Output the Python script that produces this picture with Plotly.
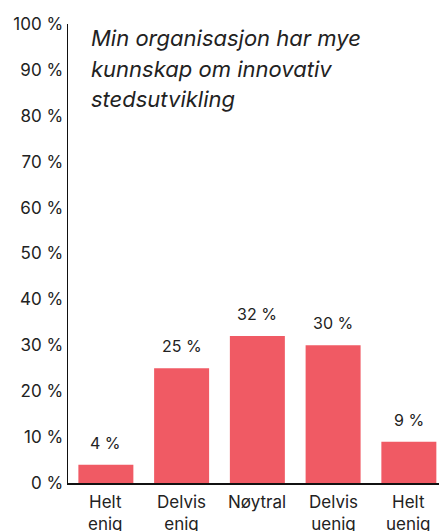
import plotly.graph_objects as go

categories = ["Helt<br>enig", "Delvis<br>enig", "Nøytral", "Delvis<br>uenig", "Helt<br>uenig"]
values = [4, 25, 32, 30, 9]
tick_vals = [0, 10, 20, 30, 40, 50, 60, 70, 80, 90, 100]
tick_text = [f"{v} %" for v in tick_vals]
title_lines = ["Min organisasjon har mye", "kunnskap om innovativ", "stedsutvikling"]

BAR = "#f05a64"
TXT = "#222222"
FONT = "Inter"

fig = go.Figure(go.Bar(
    x=list(range(len(categories))), y=values,
    marker_color=BAR, marker_line_width=0, hoverinfo="skip",
))

# value labels above bars
for i, v in enumerate(values):
    fig.add_annotation(x=i, y=v, text=f"{v} %", showarrow=False,
                       yanchor="bottom", yshift=10,
                       font=dict(family=FONT, size=16, color=TXT))

# category labels
for i, c in enumerate(categories):
    fig.add_annotation(x=i, y=0, yref="paper", text=c, showarrow=False,
                       yanchor="top", yshift=-7, align="center",
                       font=dict(family=FONT, size=17, color=TXT))

# title lines inside plot
for j, line in enumerate(title_lines):
    fig.add_annotation(xref="paper", yref="paper", x=0, y=1,
                       xanchor="left", yanchor="middle", xshift=21,
                       yshift=-14 - 30.5 * j, align="left",
                       text=f"<i>{line}</i>", showarrow=False,
                       font=dict(family=FONT, size=22, color=TXT))

fig.update_layout(
    width=439, height=531,
    margin=dict(l=68, r=0, t=24, b=48),
    paper_bgcolor="white", plot_bgcolor="white",
    bargap=0.274, showlegend=False,
    font=dict(family=FONT, size=16, color=TXT),
)
fig.update_xaxes(
    tickmode="array", tickvals=list(range(len(categories))), showticklabels=False,
    range=[-0.5, 4.398], showline=True, linecolor="#111", linewidth=1.5,
    showgrid=False, ticks="", zeroline=False,
)
fig.update_yaxes(
    tickmode="array", tickvals=tick_vals, ticktext=tick_text,
    range=[0, 100], showline=True, linecolor="#111", linewidth=1.5,
    showgrid=False, ticks="", zeroline=False,
    tickfont=dict(family=FONT, size=17, color=TXT),
)

fig.write_html("out.html", config={"displayModeBar": False, "staticPlot": True},
               post_script="document.body.style.margin='0';document.body.style.overflow='hidden';")
